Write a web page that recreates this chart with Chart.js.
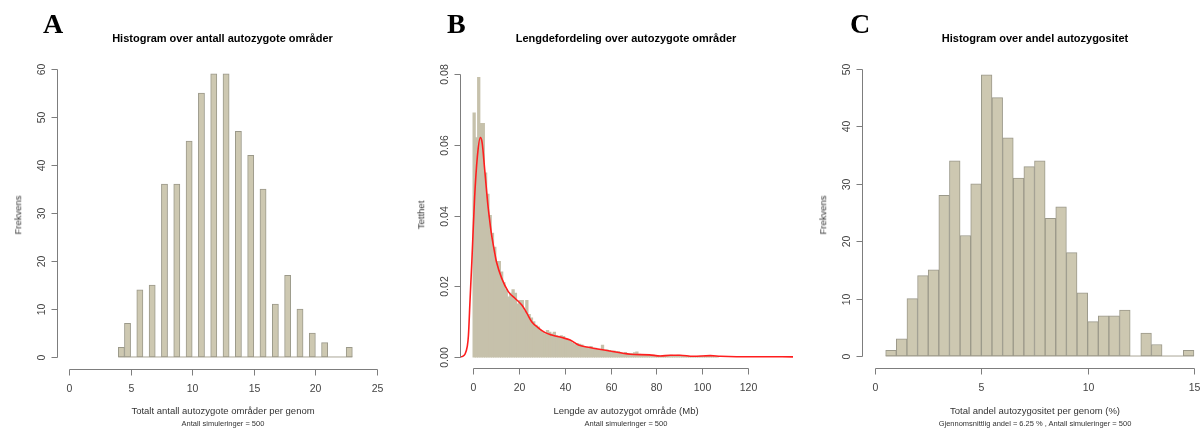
<!DOCTYPE html>
<html>
<head>
<meta charset="utf-8">
<script src="https://cdn.jsdelivr.net/npm/chart.js@4.4.1/dist/chart.umd.min.js"></script>
<style>
html, body { margin: 0; padding: 0; background: #fff; width: 1203px; height: 432px; overflow: hidden; position: relative; }
canvas { position: absolute; top: 0; }
.txt { position: absolute; white-space: nowrap; line-height: 1; font-family: "Liberation Sans", Arial, sans-serif; color: #333; transform: translateX(-50%); }
.title { font-weight: bold; font-size: 11px; color: #000; top: 32.5px; }
.xlab { font-size: 9.5px; top: 405.5px; }
.sub { font-size: 7.5px; top: 419.5px; }
.ylab { font-size: 9.5px; top: 215px; transform: translate(-50%, -50%) rotate(-90deg); }
.panel { position: absolute; font-family: "Liberation Serif", serif; font-weight: bold; font-size: 28px; line-height: 1; top: 9.5px; color: #000; }
</style>
</head>
<body>
<canvas id="chartA" width="400" height="432" style="left:0"></canvas>
<canvas id="chartB" width="400" height="432" style="left:400px"></canvas>
<canvas id="chartC" width="410" height="432" style="left:800px"></canvas>

<div class="panel" style="left:43px">A</div>
<div class="panel" style="left:447px">B</div>
<div class="panel" style="left:850px">C</div>

<div class="txt title" style="left:222.5px">Histogram over antall autozygote områder</div>
<div class="txt title" style="left:626px">Lengdefordeling over autozygote områder</div>
<div class="txt title" style="left:1035px">Histogram over andel autozygositet</div>

<div class="txt xlab" style="left:223px">Totalt antall autozygote områder per genom</div>
<div class="txt sub" style="left:223px">Antall simuleringer = 500</div>
<div class="txt xlab" style="left:626px">Lengde av autozygot område (Mb)</div>
<div class="txt sub" style="left:626px">Antall simuleringer = 500</div>
<div class="txt xlab" style="left:1035px">Total andel autozygositet per genom (%)</div>
<div class="txt sub" style="left:1035px">Gjennomsnittlig andel = 6.25 % , Antall simuleringer = 500</div>

<div class="txt ylab" style="left:17.5px">Frekvens</div>
<div class="txt ylab" style="left:421px">Tetthet</div>
<div class="txt ylab" style="left:822.5px">Frekvens</div>

<script>
// A: antall autozygote områder (bins 0.5 wide, lower edge)
const binWidthA = 0.5;
const breaksA = [4, 4.5, 5.5, 6.5, 7.5, 8.5, 9.5, 10.5, 11.5, 12.5, 13.5, 14.5, 15.5, 16.5, 17.5, 18.5, 19.5, 20.5, 22.5];
const countsA = [2, 7, 14, 15, 36, 36, 45, 55, 59, 59, 47, 42, 35, 11, 17, 10, 5, 3, 2];
const xTicksA = ['0', '5', '10', '15', '20', '25'];
const yTicksA = ['0', '10', '20', '30', '40', '50', '60'];

// B: lengdefordeling (tetthet per 1 Mb bin, starting at 0)
const binWidthB = 1;
const densB = [
  0.069, 0.062, 0.079, 0.066, 0.066, 0.052, 0.046, 0.040, 0.035, 0.031,
  0.027, 0.027, 0.024, 0.021, 0.019, 0.017, 0.018, 0.019, 0.018, 0.015,
  0.016, 0.016, 0.013, 0.016, 0.012, 0.011, 0.010, 0.009, 0.0085, 0.0075,
  0.007, 0.0065, 0.0075, 0.007, 0.0065, 0.007, 0.006, 0.0055, 0.006, 0.0058,
  0.005, 0.0048, 0.0045, 0.004, 0.0035, 0.0038, 0.0036, 0.0034, 0.003, 0.0028,
  0.0026, 0.003, 0.0024, 0.0025, 0.0022, 0.002, 0.0033, 0.0018, 0.002, 0.0018,
  0.0016, 0.0017, 0.0014, 0.0015, 0.0012, 0.001, 0.0013, 0.0008, 0.001, 0.0009,
  0.0012, 0.0014, 0.0008, 0.0007, 0.0006, 0.0005, 0.0006, 0.0004, 0.0005, 0.0004,
  0.0003, 0.0002, 0.0003, 0.0002, 0.0004, 0.0003, 0.0005, 0.0004, 0.0003, 0.0005,
  0.0003, 0.0004, 0.0004, 0.0002, 0.0001, 0.0001, 0.0001, 0.0001, 0.0001, 0.0002,
  0.0001, 0.0002, 0.0003, 0.0002, 0.0001, 0.0001, 0.0001
];
const curveXB = [-5.6, -4.5, -3.5, -2.5, -2, -1.3, -0.5, 0.7, 1.9, 3.2, 4, 5.1, 6.5, 7.4, 8, 9.6, 10.2, 12.5, 15.4, 18.3,
  21.3, 23.5, 25.6, 28.6, 31.5, 34.4, 38.8, 42.4, 46, 51, 59.8, 68.6, 77, 81.7, 86, 90.4, 96, 103.5, 108, 115, 125, 139.6];
const curveYB = [0.00005, 0.0002, 0.0008, 0.003, 0.006, 0.016, 0.027, 0.045, 0.0566, 0.062, 0.0605, 0.053, 0.043, 0.038, 0.035, 0.029, 0.027, 0.0223, 0.0185, 0.0166,
  0.0147, 0.0124, 0.010, 0.0082, 0.0069, 0.0062, 0.0055, 0.0048, 0.0034, 0.0027, 0.0017, 0.0008, 0.0006, 0.0003, 0.0005, 0.0005, 0.0002, 0.0004, 0.0002, 0.0001, 0.0001, 0.00005];
const xTicksB = ['0', '20', '40', '60', '80', '100', '120'];
const yTicksB = ['0.00', '0.02', '0.04', '0.06', '0.08'];

// C: andel autozygositet (%)
const binWidthC = 0.5;
const breaksC = [0.5, 1, 1.5, 2, 2.5, 3, 3.5, 4, 4.5, 5, 5.5, 6, 6.5, 7, 7.5, 8, 8.5, 9, 9.5, 10, 10.5, 11, 11.5, 12, 12.5, 13, 13.5, 14, 14.5];
const countsC = [1, 3, 10, 14, 15, 28, 34, 21, 30, 49, 45, 38, 31, 33, 34, 24, 26, 18, 11, 6, 7, 7, 8, 0, 4, 2, 0, 0, 1];
const xTicksC = ['0', '5', '10', '15'];
const yTicksC = ['0', '10', '20', '30', '40', '50'];

const FILL = '#CDC8B1';
const EDGE = '#9b998a';
const AXIS = '#7d7d7d';
const FONT = '"Liberation Sans", Arial, sans-serif';

// R-style axes: line only between first and last tick, labels on y rotated
const rAxes = {
    id: 'rAxes',
    afterDraw(chart, args, opts) {
        const { ctx, chartArea: a, scales: { x, y } } = chart;
        const xb = Math.round(a.bottom) + 0.5;
        const yl = Math.round(a.left) + 0.5;
        const xs = opts.xTicks.map((l) => Math.round(x.getPixelForValue(parseFloat(l))) + 0.5);
        const ys = opts.yTicks.map((l) => Math.round(y.getPixelForValue(parseFloat(l))) + 0.5);
        ctx.save();
        ctx.strokeStyle = AXIS;
        ctx.lineWidth = 1;
        ctx.beginPath();
        ctx.moveTo(xs[0], xb);
        ctx.lineTo(xs[xs.length - 1], xb);
        xs.forEach((px) => { ctx.moveTo(px, xb); ctx.lineTo(px, xb + 6); });
        ctx.moveTo(yl, ys[0]);
        ctx.lineTo(yl, ys[ys.length - 1]);
        ys.forEach((py) => { ctx.moveTo(yl, py); ctx.lineTo(yl - 6, py); });
        ctx.stroke();

        ctx.fillStyle = '#444';
        ctx.font = '10.5px ' + FONT;
        ctx.textAlign = 'center';
        ctx.textBaseline = 'alphabetic';
        opts.xTicks.forEach((l, i) => ctx.fillText(l, xs[i], xb + 22));
        opts.yTicks.forEach((l, i) => {
            ctx.save();
            ctx.translate(yl - 13, ys[i]);
            ctx.rotate(-Math.PI / 2);
            ctx.fillText(l, 0, 0);
            ctx.restore();
        });
        ctx.restore();
    },
};

function histChart(id, datasets, xr, yr, pad, xTicks, yTicks) {
    return new Chart(document.getElementById(id), {
        type: 'bar',
        data: { datasets },
        options: {
            responsive: false,
            animation: false,
            layout: { padding: pad },
            scales: {
                x: { type: 'linear', display: false, offset: false, min: xr[0], max: xr[1] },
                y: { type: 'linear', display: false, min: yr[0], max: yr[1] },
            },
            plugins: {
                legend: { display: false },
                tooltip: { enabled: false },
                rAxes: { xTicks, yTicks },
            },
        },
        plugins: [rAxes],
    });
}

function histBars(breaks, counts, width) {
    return {
        type: 'bar',
        data: breaks.map((b, i) => ({ x: b + width / 2, y: counts[i] })),
        backgroundColor: FILL,
        borderColor: EDGE,
        borderWidth: 1,
        borderSkipped: false,
        barPercentage: 1,
        categoryPercentage: 1,
        order: 1,
    };
}

function baseline(breaks, width) {
    return {
        type: 'line',
        data: [{ x: breaks[0], y: 0 }, { x: breaks[breaks.length - 1] + width, y: 0 }],
        borderColor: '#aaa797',
        borderWidth: 1,
        pointRadius: 0,
        order: 2,
    };
}

histChart('chartA',
    [histBars(breaksA, countsA, binWidthA), baseline(breaksA, binWidthA)],
    [-1, 26], [-2.4, 62.4],
    { left: 56.7, right: 10.7, top: 57.5, bottom: 63.5 },
    xTicksA, yTicksA);

histChart('chartB',
    [
        {
            type: 'line',
            data: curveXB.map((v, i) => ({ x: v, y: curveYB[i] })),
            borderColor: '#ff1e1e',
            borderWidth: 1.6,
            pointRadius: 0,
            cubicInterpolationMode: 'monotone',
            order: 0,
        },
        {
            type: 'bar',
            data: densB.map((d, i) => ({ x: i * binWidthB + binWidthB / 2, y: d })),
            backgroundColor: '#C6C1AB',
            borderWidth: 0,
            barPercentage: 1,
            categoryPercentage: 1,
            inflateAmount: 0.5,
            order: 1,
        },
    ],
    [-5.67, 139.6], [-0.0031, 0.0822],
    { left: 60, right: 7, top: 66.2, bottom: 64 },
    xTicksB, yTicksB);

histChart('chartC',
    [histBars(breaksC, countsC, binWidthC), baseline(breaksC, binWidthC)],
    [-0.6, 15.6], [-2, 52],
    { left: 62.3, right: 3.3, top: 57.5, bottom: 64.5 },
    xTicksC, yTicksC);
</script>
</body>
</html>
